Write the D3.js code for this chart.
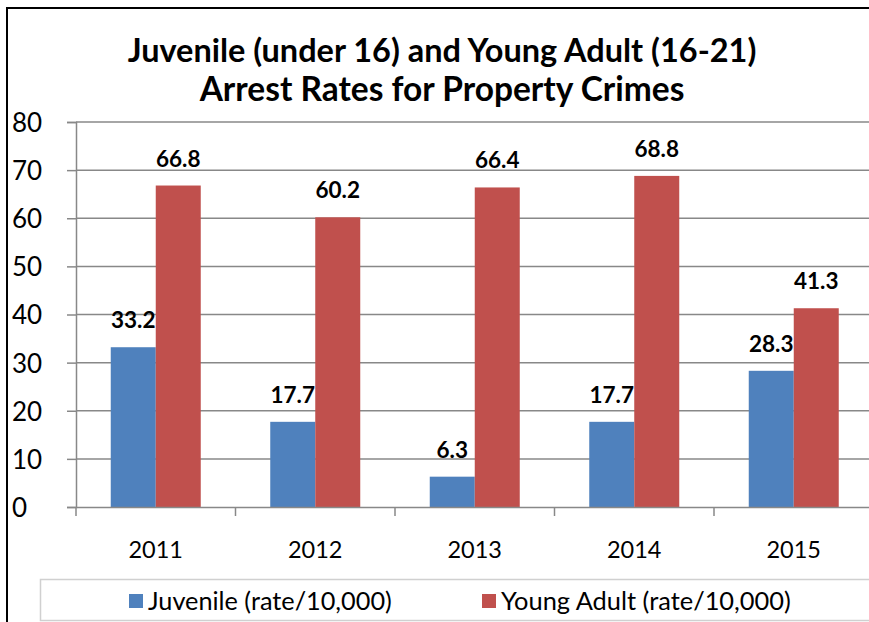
<!DOCTYPE html>
<html lang="en">
<head>
<meta charset="utf-8">
<title>Juvenile and Young Adult Arrest Rates</title>
<script src="https://d3js.org/d3.v7.min.js"></script>
<style>
  body { margin: 0; background: #fff; }
  text { font-family: Lato, "Open Sans", sans-serif; }
</style>
</head>
<body>
<script>
var years = ["2011", "2012", "2013", "2014", "2015"];
var seriesNames = ["Juvenile (rate/10,000)", "Young Adult (rate/10,000)"];
var juvenile = [33.2, 17.7, 6.3, 17.7, 28.3];
var youngAdult = [66.8, 60.2, 66.4, 68.8, 41.3];
var yTicks = [0, 10, 20, 30, 40, 50, 60, 70, 80];
var colors = ["#4F81BD", "#C0504D"];

var w = 869, h = 622;
var svg = d3.select("body").append("svg").attr("width", w).attr("height", h);

// outer frame (top + left visible)
svg.append("line").attr("x1", 6).attr("x2", w).attr("y1", 8).attr("y2", 8)
   .attr("stroke", "#000").attr("stroke-width", 2);
svg.append("line").attr("x1", 7).attr("x2", 7).attr("y1", 7).attr("y2", h)
   .attr("stroke", "#000").attr("stroke-width", 2);

// fit text to a target width
function fit(sel, target) {
  var len = sel.node().getComputedTextLength();
  var fs = parseFloat(sel.style("font-size"));
  sel.style("font-size", (fs * target / len) + "px");
}

var t1 = svg.append("text").attr("x", 442).attr("y", 62).attr("text-anchor", "middle")
  .attr("font-weight", "bold").style("font-size", "30px")
  .text("Juvenile (under 16) and Young Adult (16-21)");
fit(t1, 629);
var t2 = svg.append("text").attr("x", 442).attr("y", 101).attr("text-anchor", "middle")
  .attr("font-weight", "bold").style("font-size", "30px")
  .text("Arrest Rates for Property Crimes");
fit(t2, 485);

var x0 = 76, bandW = 159.5;
var x = d3.scaleBand().domain(years).range([x0, x0 + bandW * years.length]).paddingInner(0).paddingOuter(0);
var y = d3.scaleLinear().domain([0, 80]).range([507, 122]);

// gridlines
svg.append("g").selectAll("line").data(yTicks.slice(1)).enter().append("line")
  .attr("x1", x0).attr("x2", x0 + bandW * years.length)
  .attr("y1", function(d) { return y(d); }).attr("y2", function(d) { return y(d); })
  .attr("stroke", "#888").attr("stroke-width", 1.5);

// y axis
var yAxis = svg.append("g").attr("transform", "translate(" + x0 + ",0)")
  .call(d3.axisLeft(y).tickValues(yTicks).tickSize(9).tickFormat(d3.format("d")));
yAxis.select(".domain").attr("stroke", "#888").attr("stroke-width", 1.5);
yAxis.selectAll(".tick line").attr("stroke", "#888").attr("stroke-width", 1.5);
yAxis.selectAll(".tick text").attr("x", 12 - x0).attr("text-anchor", "start").attr("dy", "0.36em")
  .style("font-size", "26px").attr("fill", "#000");

var inner = d3.scaleBand().domain([0, 1]).range([0, 90]);
var groups = [juvenile, youngAdult];

groups.forEach(function(vals, s) {
  svg.append("g").selectAll("rect").data(vals).enter().append("rect")
    .attr("x", function(d, i) { return x(years[i]) + (bandW - 90) / 2 + inner(s); })
    .attr("width", inner.bandwidth())
    .attr("y", function(d) { return y(d); })
    .attr("height", function(d) { return y(0) - y(d); })
    .attr("fill", colors[s]);
  svg.append("g").selectAll("text").data(vals).enter().append("text")
    .attr("x", function(d, i) { return x(years[i]) + (bandW - 90) / 2 + inner(s) + inner.bandwidth() / 2; })
    .attr("y", function(d) { return y(d) - 19; })
    .attr("text-anchor", "middle").attr("font-weight", "bold").style("font-size", "22.5px")
    .text(function(d) { return d.toFixed(1); });
});

// x axis
var xAxis = svg.append("g").attr("transform", "translate(0,507)")
  .call(d3.axisBottom(x).tickSize(0).tickPadding(34));
xAxis.select(".domain").attr("stroke", "#888").attr("stroke-width", 1.5);
xAxis.selectAll(".tick text").style("font-size", "23.5px").attr("fill", "#000");
svg.append("g").selectAll("line").data(d3.range(years.length + 1)).enter().append("line")
  .attr("x1", function(i) { return x0 + i * bandW; }).attr("x2", function(i) { return x0 + i * bandW; })
  .attr("y1", 507).attr("y2", 516).attr("stroke", "#888").attr("stroke-width", 1.5);

// legend
svg.append("rect").attr("x", 40.5).attr("y", 579.5).attr("width", 840).attr("height", 41)
  .attr("fill", "#fff").attr("stroke", "#d0d0d0").attr("stroke-width", 1.5);
var legX = [129, 482];
var legW = [244, 290];
seriesNames.forEach(function(name, s) {
  svg.append("rect").attr("x", legX[s]).attr("y", 594).attr("width", 14).attr("height", 14).attr("fill", colors[s]);
  var t = svg.append("text").attr("x", legX[s] + 19).attr("y", 601).attr("dy", "0.35em")
    .style("font-size", "22px").text(name);
  fit(t, legW[s]);
});
</script>
</body>
</html>
